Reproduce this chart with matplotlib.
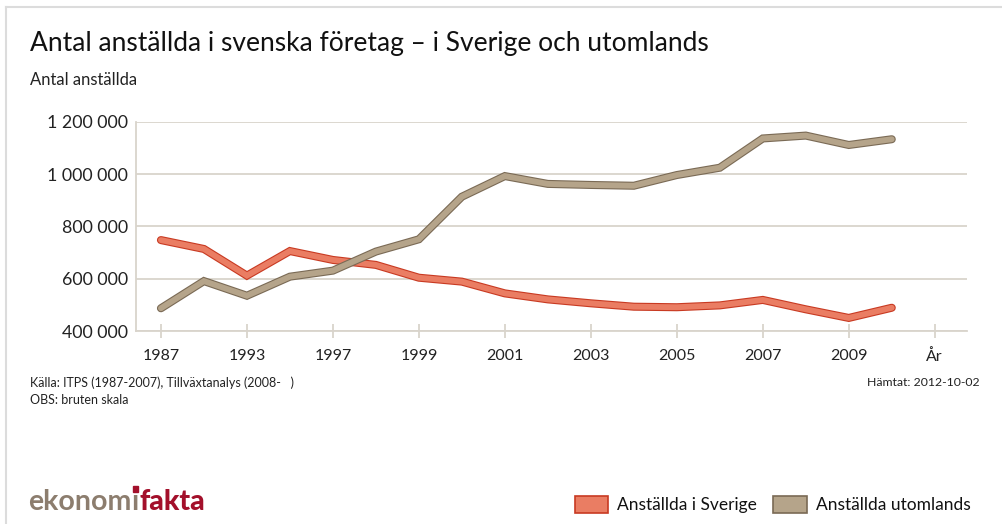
import numpy as np
import matplotlib.pyplot as plt
import matplotlib.patheffects as pe
from matplotlib.patches import Rectangle
from matplotlib.lines import Line2D

plt.rcParams['font.family'] = ['Lato', 'DejaVu Sans']

years = ['1987', '1990', '1993', '1995', '1997', '1998', '1999', '2000', '2001', '2002',
         '2003', '2004', '2005', '2006', '2007', '2008', '2009', '2010']
sverige = [748000, 714000, 612000, 706000, 672000, 653000, 604000, 589000, 544000, 521000,
           506000, 493000, 491000, 498000, 519000, 483000, 450000, 489000]
utomlands = [487000, 591000, 535000, 608000, 631000, 704000, 751000, 914000, 993000, 963000,
             959000, 956000, 997000, 1025000, 1137000, 1148000, 1112000, 1134000]
ytick_vals = [400000, 600000, 800000, 1000000, 1200000]
ytick_labels = ['400 000', '600 000', '800 000', '1 000 000', '1 200 000']

grid_col = '#d9d4cc'
red_fill, red_edge = '#ea7d63', '#c83a22'
brn_fill, brn_edge = '#b5a48a', '#7a6a55'

fig = plt.figure(figsize=(10.02, 5.24), dpi=100)
W, H = 1002, 524

# frame lines of the card
fig.add_artist(Line2D([6 / W, 6 / W], [0, 1 - 7 / H], color='#dcdcdc', lw=1.5))
fig.add_artist(Line2D([6 / W, 1], [1 - 7 / H, 1 - 7 / H], color='#dcdcdc', lw=1.5))

ax = fig.add_axes([136 / W, 1 - 331 / H, (967 - 136) / W, (331 - 122) / H])
x = np.arange(len(years))

ax.plot(x, sverige, color=red_fill, lw=4.2, solid_capstyle='round', solid_joinstyle='miter',
        path_effects=[pe.Stroke(linewidth=5.8, foreground=red_edge), pe.Normal()], zorder=3)
ax.plot(x, utomlands, color=brn_fill, lw=4.2, solid_capstyle='round', solid_joinstyle='miter',
        path_effects=[pe.Stroke(linewidth=5.8, foreground=brn_edge), pe.Normal()], zorder=3)

ax.set_xlim(-0.58, 18.75)
ax.set_ylim(400000, 1200000)
ax.set_yticks(ytick_vals)
ax.set_yticklabels(ytick_labels)
ax.grid(axis='y', color=grid_col, lw=1.3)
ax.set_axisbelow(True)

xt = list(range(0, 19, 2))
xl = [years[i] for i in range(0, 18, 2)] + ['År']
ax.set_xticks(xt)
ax.set_xticklabels(xl)

for s in ['top', 'right']:
    ax.spines[s].set_visible(False)
for s in ['left', 'bottom']:
    ax.spines[s].set_color(grid_col)
    ax.spines[s].set_linewidth(1.3)
ax.tick_params(axis='y', length=0, pad=6, labelsize=12.8, labelcolor='#222222')
ax.tick_params(axis='x', direction='inout', length=10, width=1.3, color=grid_col,
               pad=8, labelsize=11.5, labelcolor='#222222')

fig.text(30 / W, 1 - 44 / H, 'Antal anställda i svenska företag – i Sverige och utomlands',
         fontsize=19, va='center', ha='left', color='#111111')
fig.text(30 / W, 1 - 80 / H, 'Antal anställda', fontsize=12, va='center', ha='left',
         color='#222222')

fig.text(30 / W, 1 - 383 / H, 'Källa: ITPS (1987-2007), Tillväxtanalys (2008-   )',
         fontsize=9, va='center', ha='left', color='#222222')
fig.text(30 / W, 1 - 400 / H, 'OBS: bruten skala', fontsize=9, va='center', ha='left',
         color='#222222')
fig.text(980 / W, 1 - 383 / H, 'Hämtat: 2012-10-02', fontsize=8.8, va='center', ha='right',
         color='#222222')

# logo, laid out piece by piece
r = fig.canvas.get_renderer()
t1 = fig.text(28 / W, 1 - 502 / H, 'ekonom', fontsize=20.5, va='center', ha='left',
              color='#8c7d6e', fontweight='bold')
x1 = t1.get_window_extent(r).x1
t2 = fig.text(x1 / W, 1 - 502 / H, 'ı', fontsize=20.5, va='center', ha='left',
              color='#8c7d6e', fontweight='bold')
e2 = t2.get_window_extent(r)
t3 = fig.text((e2.x1 + 1) / W, 1 - 502 / H, 'fakta', fontsize=20.5, va='center', ha='left',
              color='#a3102b', fontweight='black')
fig.add_artist(Rectangle(((e2.x0 + e2.x1) / 2 / W - 2.5 / W, 1 - 492 / H), 5 / W, 6 / H,
                         color='#a3102b', transform=fig.transFigure))

# legend
fig.add_artist(Rectangle((575 / W, 1 - 513 / H), 33 / W, 17 / H, facecolor=red_fill,
                         edgecolor=red_edge, lw=1.2, transform=fig.transFigure))
fig.text(617 / W, 1 - 505 / H, 'Anställda i Sverige', fontsize=12.5, va='center',
         ha='left', color='#111111')
fig.add_artist(Rectangle((773 / W, 1 - 513 / H), 34 / W, 17 / H, facecolor=brn_fill,
                         edgecolor=brn_edge, lw=1.2, transform=fig.transFigure))
fig.text(816 / W, 1 - 505 / H, 'Anställda utomlands', fontsize=12.5, va='center',
         ha='left', color='#111111')

fig.savefig('out.png', dpi=100)
